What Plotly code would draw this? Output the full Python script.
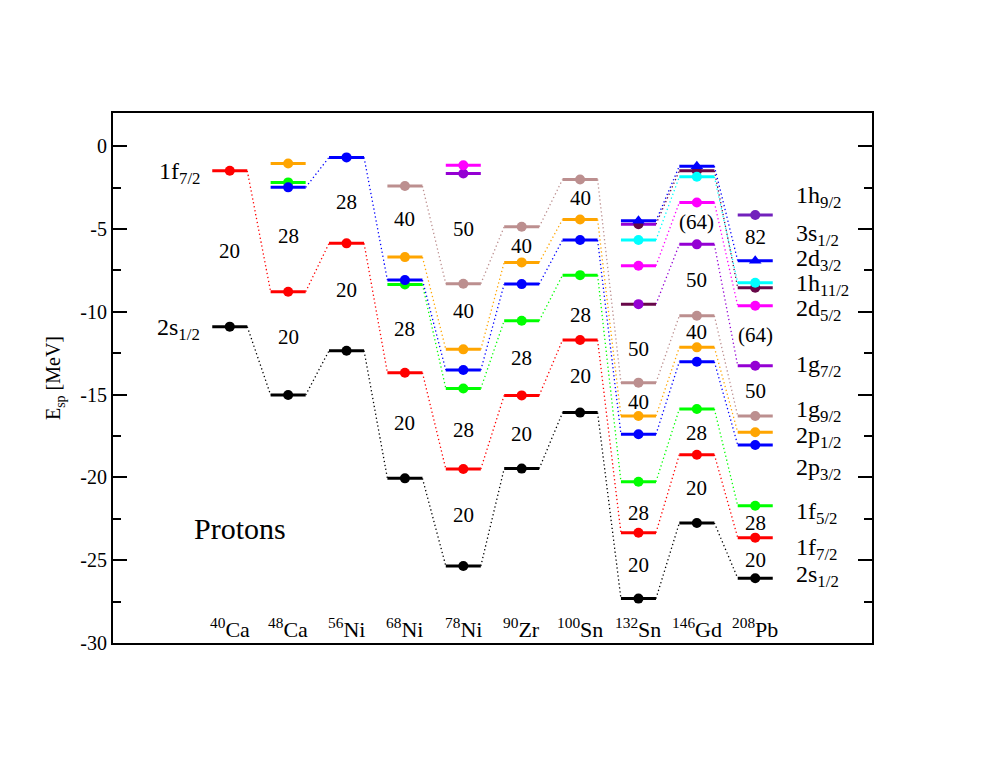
import plotly.graph_objects as go

# nuclei along the x axis (positions 1..10)
nuclei = ["40Ca", "48Ca", "56Ni", "68Ni", "78Ni", "90Zr", "100Sn", "132Sn", "146Gd", "208Pb"]
mass = ["40", "48", "56", "68", "78", "90", "100", "132", "146", "208"]
element = ["Ca", "Ca", "Ni", "Ni", "Ni", "Zr", "Sn", "Sn", "Gd", "Pb"]

# proton single-particle energies [MeV], None = level not shown
e_2s12 = [-10.90, -15.03, -12.35, -20.06, -25.35, -19.47, -16.09, -27.32, -22.75, -26.09]
e_1f72 = [-1.49, -8.79, -5.87, -13.68, -19.49, -15.05, -11.71, -23.34, -18.63, -23.64]
e_1f52 = [None, -2.19, None, -8.35, -14.63, -10.54, -7.79, -20.26, -15.87, -21.71]
e_2p32 = [None, -2.49, -0.68, -8.09, -13.52, -8.33, -5.67, -17.40, -13.02, -18.05]
e_2p12 = [None, -1.05, None, -6.70, -12.27, -7.02, -4.43, -16.29, -12.15, -17.28]
e_1g92 = [None, None, None, -2.41, -8.31, -4.87, -2.01, -14.28, -10.24, -16.29]
e_1g72 = [None, None, None, None, -1.65, None, None, -9.54, -5.93, -13.26]
e_2d52 = [None, None, None, None, -1.15, None, None, -7.22, -3.40, -9.64]
e_1h112 = [None, None, None, None, None, None, None, -4.71, -1.49, -8.55]
e_3s12 = [None, None, None, None, None, None, None, -5.67, -1.85, -8.25]
e_2d32 = [None, None, None, None, None, None, None, -4.51, -1.21, -6.92]
e_1h92 = [None, None, None, None, None, None, None, None, None, -4.16]

orbitals = [
    ("2s1/2", e_2s12, "#000000", "circle"),
    ("1f7/2", e_1f72, "#ff0000", "circle"),
    ("1f5/2", e_1f52, "#00ff00", "circle"),
    ("2p3/2", e_2p32, "#0000ff", "circle"),
    ("2p1/2", e_2p12, "#ffa500", "circle"),
    ("1g9/2", e_1g92, "#bc8f8f", "circle"),
    ("1g7/2", e_1g72, "#9400d3", "circle"),
    ("2d5/2", e_2d52, "#ff00ff", "circle"),
    ("1h11/2", e_1h112, "#670748", "circle"),
    ("3s1/2", e_3s12, "#00ffff", "circle"),
    ("2d3/2", e_2d32, "#0000ff", "triangle-up"),
    ("1h9/2", e_1h92, "#7221bc", "circle"),
]
# in 132Sn the two h/g bars are drawn in each other's colour
bar_color_override = {("1g7/2", 7): "#670748", ("1h11/2", 7): "#9400d3"}

# shell gap labels: nucleus index, energy, text
magic_idx = [0, 1, 1, 2, 2, 3, 3, 3, 4, 4, 4, 4, 5, 5, 5, 6, 6, 6,
             7, 7, 7, 7, 8, 8, 8, 8, 8, 9, 9, 9, 9, 9]
magic_e = [-6.32, -5.43, -11.55, -3.36, -8.69, -4.37, -11.07, -16.70,
           -5.01, -9.94, -17.14, -22.27, -6.01, -12.77, -17.38,
           -3.16, -10.20, -13.88, -12.27, -15.47, -22.13, -25.29,
           -4.57, -8.09, -11.20, -17.34, -20.66, -5.51, -11.40, -14.77, -22.73, -24.98]
magic_txt = ["20", "28", "20", "28", "20", "40", "28", "20", "50", "40", "28", "20",
             "40", "28", "20", "40", "28", "20", "50", "40", "28", "20",
             "(64)", "50", "40", "28", "20", "82", "(64)", "50", "28", "20"]

# orbital labels on the right (208Pb) and left (40Ca)
right_lab = ["1h9/2", "3s1/2", "2d3/2", "1h11/2", "2d5/2", "1g7/2",
             "1g9/2", "2p1/2", "2p3/2", "1f5/2", "1f7/2", "2s1/2"]
right_e = [-3.1, -5.35, -6.9, -8.4, -9.9, -13.3,
           -16.0, -17.55, -19.5, -22.15, -24.3, -25.95]
left_lab = ["1f7/2", "2s1/2"]
left_e = [-1.6, -11.05]

# y axis ticks
tick_vals = [0, -5, -10, -15, -20, -25, -30]
tick_text = ["0", "-5", "-10", "-15", "-20", "-25", "-30"]

HALF = 0.3
font = "Liberation Serif, Times New Roman, serif"


def sub(lab):
    return lab[:2] + "<sub>" + lab[2:] + "</sub>"


fig = go.Figure()
xs = [i + 1 for i in range(len(nuclei))]

for name, vals, color, sym in orbitals:
    # dotted connectors between neighbouring nuclei
    cx, cy = [], []
    for i in range(len(vals) - 1):
        if vals[i] is not None and vals[i + 1] is not None:
            cx += [xs[i] + HALF, xs[i + 1] - HALF, None]
            cy += [vals[i], vals[i + 1], None]
    if cx:
        fig.add_trace(go.Scatter(x=cx, y=cy, mode="lines", showlegend=False,
                                 line=dict(color=color, width=1.3, dash="1.3px,2.7px")))
    # level bars
    for i, v in enumerate(vals):
        if v is None:
            continue
        bc = bar_color_override.get((name, i), color)
        fig.add_trace(go.Scatter(x=[xs[i] - HALF, xs[i] + HALF], y=[v, v], mode="lines",
                                 showlegend=False, line=dict(color=bc, width=3)))
    mx = [xs[i] for i, v in enumerate(vals) if v is not None]
    my = [v for v in vals if v is not None]
    fig.add_trace(go.Scatter(x=mx, y=my, mode="markers", showlegend=False,
                             marker=dict(color=color, symbol=sym,
                                         size=11 if sym != "circle" else 10)))

for i, e, t in zip(magic_idx, magic_e, magic_txt):
    fig.add_annotation(x=xs[i], y=e, text=t, showarrow=False,
                       font=dict(family=font, size=21, color="black"))

for lab, e in zip(right_lab, right_e):
    fig.add_annotation(x=10.66, y=e, text=sub(lab), showarrow=False, xanchor="left",
                       font=dict(family=font, size=24, color="black"))
for lab, e in zip(left_lab, left_e):
    fig.add_annotation(x=0.52, y=e, text=sub(lab), showarrow=False, xanchor="right",
                       font=dict(family=font, size=24, color="black"))

for x, m, el in zip(xs, mass, element):
    fig.add_annotation(x=x, y=-29.1, text="<sup>" + m + "</sup>" + el, showarrow=False,
                       font=dict(family=font, size=22, color="black"))

fig.add_annotation(x=1.18, y=-23.1, text="Protons", showarrow=False,
                   font=dict(family=font, size=30, color="black"))

fig.update_layout(
    width=981, height=758,
    margin=dict(l=105, r=117, t=105, b=123),
    paper_bgcolor="white", plot_bgcolor="white",
    font=dict(family=font, color="black"),
)
fig.update_xaxes(range=[-1, 12], showgrid=False, zeroline=False, showticklabels=False,
                 showline=True, linecolor="black", linewidth=2, mirror=True, ticks="")
fig.update_yaxes(range=[-30, 2], showgrid=False, zeroline=False,
                 showline=True, linecolor="black", linewidth=2, mirror="ticks",
                 ticks="inside", ticklen=14, tickwidth=1.5, tickcolor="black",
                 tickmode="array", tickvals=tick_vals, ticktext=tick_text,
                 tickfont=dict(family=font, size=20),
                 minor=dict(ticks="inside", ticklen=8, tick0=0, dtick=2.5,
                            tickcolor="black", tickwidth=1.5),
                 title=dict(text="E<sub>sp</sub> [MeV]", font=dict(family=font, size=20), standoff=14))

fig.write_html("out.html")
